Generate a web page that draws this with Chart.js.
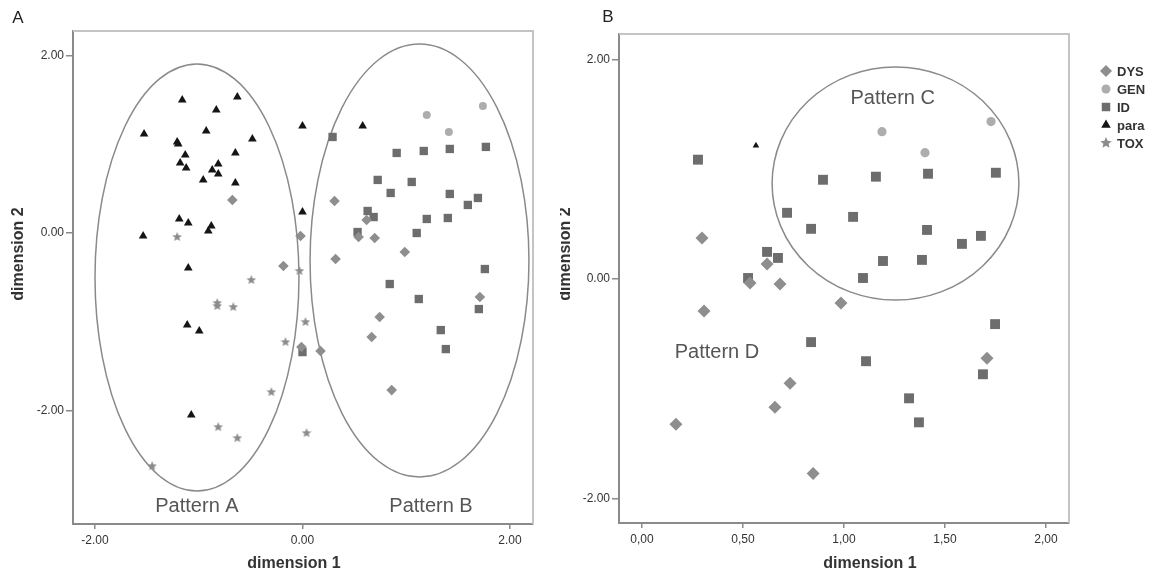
<!DOCTYPE html>
<html>
<head>
<meta charset="utf-8">
<script src="https://cdn.jsdelivr.net/npm/chart.js@4.4.0/dist/chart.umd.min.js"></script>
<style>
  body { margin: 0; background: #fff; width: 1152px; height: 573px; overflow: hidden; position: relative; }
  canvas { position: absolute; top: 0; }
</style>
</head>
<body>
<canvas id="chartA" width="560" height="573" style="left:0px"></canvas>
<canvas id="chartB" width="592" height="573" style="left:560px"></canvas>
<script>
// ---- data ----
const groups = ["DYS", "GEN", "ID", "para", "TOX"];

// panel A
const dysA = [[-0.676,0.372],[0.309,0.361],[0.618,0.147],[-0.019,-0.034],[0.541,-0.045],[0.696,-0.056],
  [0.986,-0.214],[-0.184,-0.372],[0.319,-0.293],[0.744,-0.947],[0.667,-1.172],[-0.010,-1.285],
  [0.174,-1.330],[0.860,-1.770],[1.710,-0.722]];
const genA = [[1.198,1.330],[1.739,1.432],[1.411,1.139]];
const idA = [[0.290,1.082],[0.908,0.902],[1.169,0.924],[1.420,0.947],[1.768,0.970],[0.725,0.598],
  [1.053,0.575],[0.850,0.451],[1.420,0.440],[1.691,0.395],[1.594,0.316],[0.628,0.248],[0.686,0.180],
  [1.198,0.158],[1.401,0.169],[1.101,0.000],[0.531,0.011],[0.841,-0.575],[1.121,-0.744],[1.758,-0.406],
  [1.700,-0.857],[1.333,-1.094],[1.382,-1.308],[0.000,-1.342]];
const paraA = [[-1.159,1.499],[-0.628,1.533],[-0.831,1.387],[-1.527,1.116],[-0.928,1.150],[-1.208,1.026],
  [-1.198,1.003],[-0.483,1.060],[-1.130,0.879],[-0.647,0.902],[-1.179,0.789],[-1.121,0.733],[-0.812,0.778],
  [-0.870,0.710],[-0.812,0.665],[-0.957,0.598],[-0.647,0.564],[-1.188,0.158],[-1.101,0.113],[-0.879,0.079],
  [-0.908,0.023],[-1.536,-0.034],[-1.101,-0.395],[-1.111,-1.037],[-0.995,-1.105],[-1.072,-2.052],
  [0.000,1.206],[0.580,1.206],[0.000,0.237]];
const toxA = [[-1.208,-0.045],[-0.493,-0.530],[-0.821,-0.789],[-0.821,-0.823],[-0.667,-0.834],[-0.164,-1.229],
  [0.029,-1.003],[-0.029,-0.428],[-0.300,-1.793],[-0.812,-2.187],[-0.628,-2.311],[-1.449,-2.627],[0.039,-2.255]];

// panel B
const dysB = [[0.297,0.374],[0.619,0.137],[0.535,-0.037],[0.683,-0.046],[0.307,-0.292],[0.985,-0.219],
  [0.733,-0.950],[0.658,-1.169],[0.168,-1.324],[0.847,-1.772],[1.708,-0.721]];
const genB = [[1.188,1.342],[1.728,1.434],[1.401,1.151]];
const idB = [[0.277,1.087],[0.896,0.904],[1.158,0.932],[1.416,0.959],[1.752,0.968],[0.718,0.603],
  [1.045,0.566],[0.837,0.457],[1.411,0.447],[1.678,0.393],[1.584,0.320],[0.619,0.247],[0.673,0.192],
  [1.193,0.164],[1.386,0.174],[1.094,0.009],[0.525,0.009],[0.837,-0.575],[1.109,-0.749],[1.748,-0.411],
  [1.688,-0.868],[1.322,-1.087],[1.371,-1.306]];
const paraB = [[0.564,1.215]];
const toxB = [];

// ticks
const ticksAX = [-2, 0, 2];
const labelsAX = ["-2.00", "0.00", "2.00"];
const ticksAY = [-2, 0, 2];
const labelsAY = ["-2.00", "0.00", "2.00"];
const ticksBX = [0, 0.5, 1, 1.5, 2];
const labelsBX = ["0,00", "0,50", "1,00", "1,50", "2,00"];
const ticksBY = [-2, 0, 2];
const labelsBY = ["-2.00", "0.00", "2.00"];

// ---- styling ----
const colors = { DYS: "#8e8e8e", GEN: "#adadad", ID: "#6d6d6d", para: "#151515", TOX: "#8c8c8c" };
const FONT = "'Liberation Sans', Arial, sans-serif";

function makeStar(size, color) {
  const c = document.createElement("canvas");
  c.width = c.height = size;
  const g = c.getContext("2d");
  g.fillStyle = color;
  g.beginPath();
  const R = size / 2, r = R * 0.45;
  for (let i = 0; i < 10; i++) {
    const a = -Math.PI / 2 + i * Math.PI / 5;
    const d = i % 2 ? r : R;
    g.lineTo(R + d * Math.cos(a), R + d * Math.sin(a));
  }
  g.closePath();
  g.fill();
  return c;
}
const starA = makeStar(10, colors.TOX);
const starLegend = makeStar(12, colors.TOX);

const toPts = arr => arr.map(([x, y]) => ({ x, y }));

function makeSet(name, data, style, radius) {
  return {
    label: name,
    data: toPts(data),
    pointStyle: style,
    pointRadius: radius,
    pointHoverRadius: radius,
    pointBackgroundColor: colors[name],
    pointBorderColor: colors[name],
    pointBorderWidth: 0,
    showLine: false
  };
}

function axis(min, max, ticks, labels, fitSize, isX) {
  return {
    type: "linear",
    min: min,
    max: max,
    afterBuildTicks: s => { s.ticks = ticks.map(v => ({ value: v })); },
    afterFit: s => { if (isX) s.height = fitSize; else s.width = fitSize; },
    border: { display: true, color: "#8a8a8a", width: 2 },
    grid: { drawOnChartArea: false, drawTicks: true, tickLength: isX ? 5 : 7, color: "#8a8a8a", lineWidth: 1.5 },
    ticks: {
      color: "#333",
      font: { family: FONT, size: 12 },
      padding: isX ? 4 : 2,
      autoSkip: false,
      maxRotation: 0,
      callback: (v, i) => labels[i]
    }
  };
}

// frame, ellipses, texts
const decor = {
  id: "decor",
  beforeDatasetsDraw(chart, args, opts) {
    const { ctx, chartArea: a, scales } = chart;
    ctx.save();
    ctx.strokeStyle = "#c4c4c4";
    ctx.lineWidth = 2;
    ctx.beginPath();
    ctx.moveTo(a.left, a.top);
    ctx.lineTo(a.right, a.top);
    ctx.lineTo(a.right, a.bottom);
    ctx.stroke();
    ctx.strokeStyle = "#8a8a8a";
    ctx.lineWidth = 1.5;
    (opts.ovals || []).forEach(o => {
      const cx = scales.x.getPixelForValue(o.cx);
      const cy = scales.y.getPixelForValue(o.cy);
      const rx = Math.abs(scales.x.getPixelForValue(o.cx + o.rx) - cx);
      const ry = Math.abs(scales.y.getPixelForValue(o.cy + o.ry) - cy);
      ctx.beginPath();
      ctx.ellipse(cx, cy, rx, ry, 0, 0, Math.PI * 2);
      ctx.stroke();
    });
    ctx.restore();
  },
  afterDraw(chart, args, opts) {
    const { ctx, scales } = chart;
    ctx.save();
    ctx.textAlign = "center";
    ctx.textBaseline = "middle";
    ctx.fillStyle = "#555";
    ctx.font = "20px " + FONT;
    (opts.notes || []).forEach(n => {
      ctx.fillText(n.text, scales.x.getPixelForValue(n.x), scales.y.getPixelForValue(n.y));
    });
    ctx.fillStyle = "#222";
    ctx.font = "17px " + FONT;
    ctx.fillText(opts.panel, opts.panelAt[0], opts.panelAt[1]);
    ctx.font = "bold 16px " + FONT;
    ctx.fillStyle = "#333";
    ctx.fillText("dimension 1", opts.xTitleAt[0], opts.xTitleAt[1]);
    ctx.translate(opts.yTitleAt[0], opts.yTitleAt[1]);
    ctx.rotate(-Math.PI / 2);
    ctx.fillText("dimension 2", 0, 0);
    ctx.restore();

    if (opts.legend) {
      const L = opts.legend;
      ctx.save();
      ctx.font = "bold 13px " + FONT;
      ctx.textAlign = "left";
      ctx.textBaseline = "middle";
      chart.data.datasets.forEach((ds, i) => {
        const y = L.y + i * L.step;
        ctx.fillStyle = colors[ds.label];
        ctx.strokeStyle = colors[ds.label];
        Chart.helpers.drawPoint(ctx, {
          pointStyle: ds.label === "TOX" ? starLegend : ds.pointStyle,
          radius: L.radius[i], rotation: 0, borderWidth: 0
        }, L.x, y);
        ctx.fillStyle = "#333";
        ctx.fillText(ds.label, L.x + 11, y + 1);
      });
      ctx.restore();
    }
  }
};

const common = {
  responsive: false,
  animation: false,
  devicePixelRatio: 1,
  events: []
};

new Chart(document.getElementById("chartA"), {
  type: "scatter",
  data: {
    datasets: [
      makeSet("DYS", dysA, "rectRot", 5.3),
      makeSet("GEN", genA, "circle", 4),
      makeSet("ID", idA, "rect", 5.9),
      makeSet("para", paraA, "triangle", 5),
      makeSet("TOX", toxA, starA, 5)
    ]
  },
  options: Object.assign({}, common, {
    layout: { padding: { top: 31, right: 27, left: 0, bottom: 0 } },
    scales: {
      x: axis(-2.212, 2.222, ticksAX, labelsAX, 49, true),
      y: axis(-3.279, 2.276, ticksAY, labelsAY, 73, false)
    },
    plugins: {
      legend: { display: false },
      tooltip: { enabled: false },
      decor: {
        ovals: [
          { cx: -1.017, cy: -0.501, rx: 0.983, ry: 2.406 },
          { cx: 1.128, cy: -0.310, rx: 1.055, ry: 2.439 }
        ],
        notes: [
          { text: "Pattern A", x: -1.017, y: -3.087 },
          { text: "Pattern B", x: 1.239, y: -3.087 }
        ],
        panel: "A", panelAt: [18, 18],
        xTitleAt: [294, 564],
        yTitleAt: [19, 254]
      }
    }
  }),
  plugins: [decor]
});

new Chart(document.getElementById("chartB"), {
  type: "scatter",
  data: {
    datasets: [
      makeSet("DYS", dysB, "rectRot", 6.5),
      makeSet("GEN", genB, "circle", 4.6),
      makeSet("ID", idB, "rect", 7),
      makeSet("para", paraB, "triangle", 3.8),
      makeSet("TOX", toxB, starA, 5)
    ]
  },
  options: Object.assign({}, common, {
    layout: { padding: { top: 34, right: 83, left: 0, bottom: 0 } },
    scales: {
      x: axis(-0.114, 2.114, ticksBX, labelsBX, 50, true),
      y: axis(-2.223, 2.232, ticksBY, labelsBY, 59, false)
    },
    plugins: {
      legend: { display: false },
      tooltip: { enabled: false },
      decor: {
        ovals: [{ cx: 1.255, cy: 0.870, rx: 0.611, ry: 1.062 }],
        notes: [
          { text: "Pattern C", x: 1.241, y: 1.649 },
          { text: "Pattern D", x: 0.371, y: -0.665 }
        ],
        panel: "B", panelAt: [48, 17],
        xTitleAt: [310, 564],
        yTitleAt: [6, 254],
        legend: { x: 546, y: 71, step: 18, radius: [6, 4.5, 6, 5.5, 6] }
      }
    }
  }),
  plugins: [decor]
});
</script>
</body>
</html>
